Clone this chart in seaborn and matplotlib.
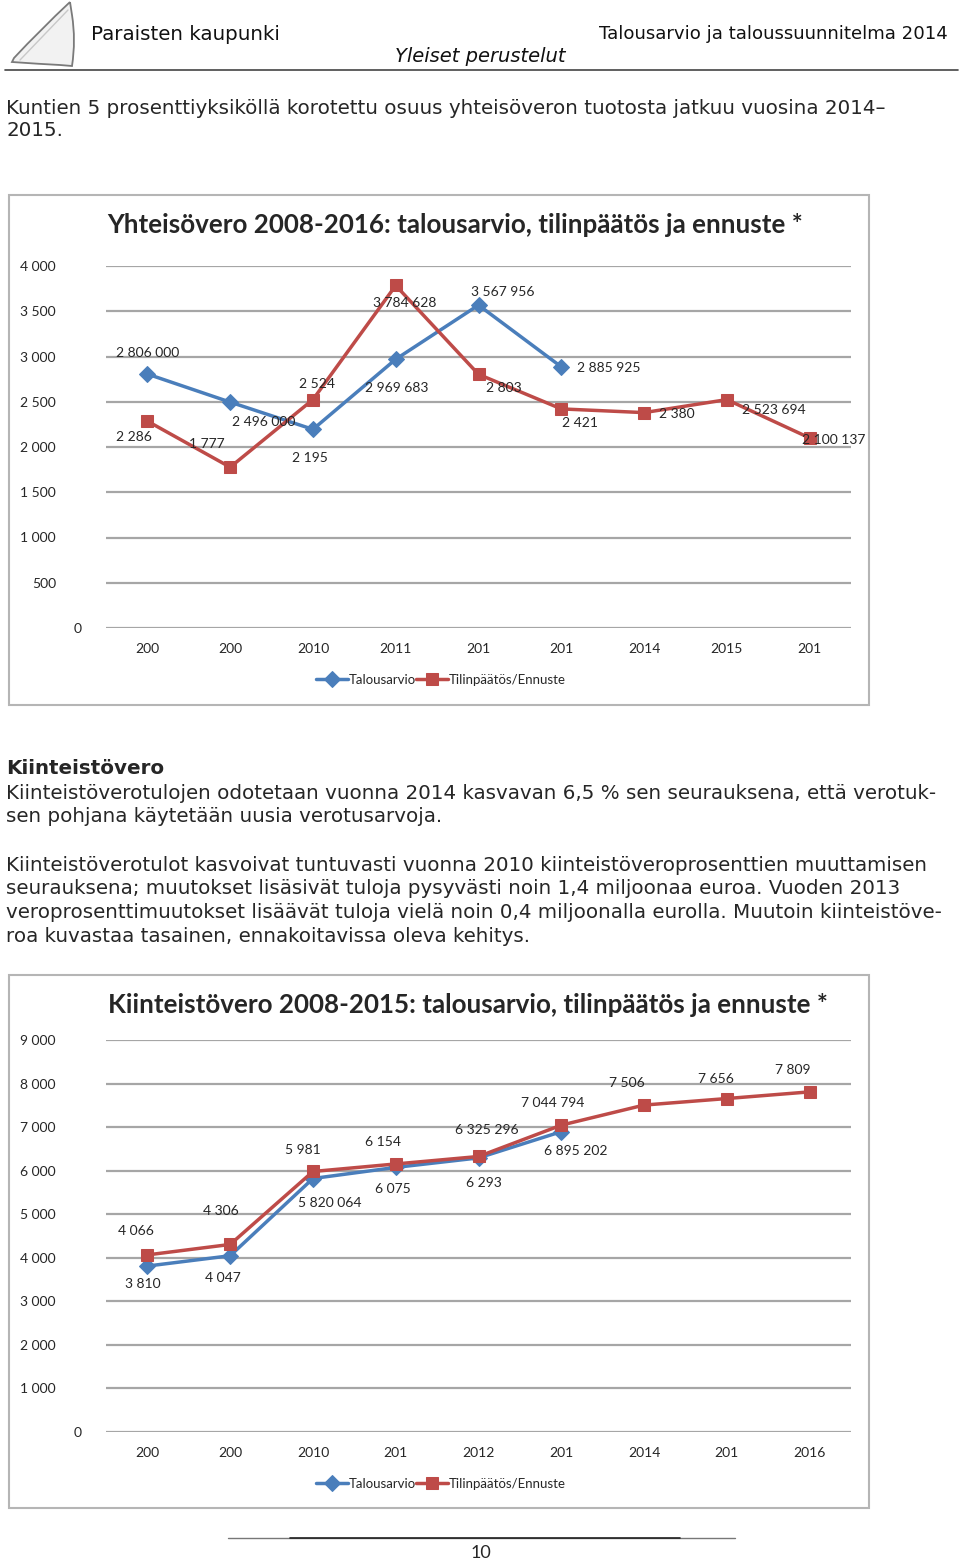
import matplotlib
matplotlib.use("Agg")
import matplotlib.pyplot as plt
import matplotlib.patches as mpatches
import matplotlib.lines as mlines
from matplotlib.path import Path
import seaborn as sns
import numpy as np

# ---------------- data ----------------
years = [2008, 2009, 2010, 2011, 2012, 2013, 2014, 2015, 2016]

c1_ticklabels = ["200", "200", "2010", "2011", "201", "201", "2014", "2015", "201"]
c1_budget = [2806, 2496, 2195, 2969.683, 3567.956, 2885.925]
c1_budget_labels = ["2 806 000", "2 496 000", "2 195", "2 969 683", "3 567 956", "2 885 925"]
c1_actual = [2286, 1777, 2524, 3784.628, 2803, 2421, 2380, 2523.694, 2100.137]
c1_actual_labels = ["2 286", "1 777", "2 524", "3 784 628", "2 803", "2 421", "2 380", "2 523 694", "2 100 137"]
c1_yticks = [0, 500, 1000, 1500, 2000, 2500, 3000, 3500, 4000]
c1_ytlabels = ["0", "500", "1 000", "1 500", "2 000", "2 500", "3 000", "3 500", "4 000"]

c2_ticklabels = ["200", "200", "2010", "201", "2012", "201", "2014", "201", "2016"]
c2_budget = [3810, 4047, 5820.064, 6075, 6293, 6895.202]
c2_budget_labels = ["3 810", "4 047", "5 820 064", "6 075", "6 293", "6 895 202"]
c2_actual = [4066, 4306, 5981, 6154, 6325.296, 7044.794, 7506, 7656, 7809]
c2_actual_labels = ["4 066", "4 306", "5 981", "6 154", "6 325 296", "7 044 794", "7 506", "7 656", "7 809"]
c2_yticks = [0, 1000, 2000, 3000, 4000, 5000, 6000, 7000, 8000, 9000]
c2_ytlabels = ["0", "1 000", "2 000", "3 000", "4 000", "5 000", "6 000", "7 000", "8 000", "9 000"]

series_names = ["Talousarvio", "Tilinpäätös/Ennuste"]

# ---------------- label offsets (pixels, +y up) ----------------
c1_budget_off = [(0, 21), (34, -20), (-3, -29), (1, -29), (24, 13), (47, -1)]
c1_actual_off = [(-13, -16), (-23, 23), (4, 16), (9, -18), (25, -14), (19, -14), (33, -1), (47, -10), (24, -2)]
c2_budget_off = [(-5, -18), (-7, -22), (17, -24), (-3, -22), (5, -25), (14, -19)]
c2_actual_off = [(-11, 24), (-9, 33), (-10, 21), (-13, 22), (8, 26), (-9, 22), (-17, 22), (-11, 20), (-17, 22)]

# ---------------- style ----------------
sns.set_style("white")
plt.rcParams["font.family"] = ["DejaVu Sans"]
CH = ["Lato", "DejaVu Sans"]
BLUE = "#4A7EBB"
RED = "#BE4B48"
GRID = "#A6A6A6"

W, H = 960, 1564
fig = plt.figure(figsize=(W / 100, H / 100), dpi=100)
renderer = fig.canvas.get_renderer()


def ftext(x, y, s, width=None, size=10, **kw):
    t = fig.text(x / W, 1 - y / H, s, fontsize=size, **kw)
    if width:
        w = t.get_window_extent(renderer=renderer).width
        t.set_fontsize(size * width / w)
    return t


def P(x, y):
    return (x / W, 1 - y / H)


# ---------------- header ----------------
sail_path = Path(
    [P(70, 2), P(40, 30), P(14, 58), P(12, 62),
     P(40, 64), P(60, 65), P(72, 66),
     P(76, 40), P(72, 15), P(70, 2)],
    [Path.MOVETO, Path.CURVE3, Path.CURVE3, Path.LINETO,
     Path.CURVE3, Path.CURVE3, Path.LINETO,
     Path.CURVE3, Path.CURVE3, Path.LINETO])
sail = mpatches.PathPatch(sail_path, transform=fig.transFigure, facecolor="#f2f2f2",
                          edgecolor="#7a7a7a", lw=1.3)
fig.patches.append(sail)
fig.add_artist(mlines.Line2D([20 / W, 68 / W], [1 - 60 / H, 1 - 10 / H], color="#c8c8c8", lw=1.0))
ftext(91, 34, "Paraisten kaupunki", width=190, ha="left", va="center", color="#111111")
ftext(948, 34, "Talousarvio ja taloussuunnitelma 2014", width=350, ha="right", va="center", color="#111111")
ftext(480, 57, "Yleiset perustelut", width=171, ha="center", va="center", style="italic", color="#111111")
fig.add_artist(mlines.Line2D([5 / W, 958 / W], [1 - 70 / H, 1 - 70 / H], color="#444444", lw=1.2))

# ---------------- body text ----------------
probe = ftext(6, 937, "roa kuvastaa tasainen, ennakoitavissa oleva kehitys.", width=527, ha="left", va="center")
BS = probe.get_fontsize()
body = [
    (108, "Kuntien 5 prosenttiyksiköllä korotettu osuus yhteisöveron tuotosta jatkuu vuosina 2014–"),
    (131, "2015."),
    (793, "Kiinteistöverotulojen odotetaan vuonna 2014 kasvavan 6,5 % sen seurauksena, että verotuk-"),
    (817, "sen pohjana käytetään uusia verotusarvoja."),
    (865, "Kiinteistöverotulot kasvoivat tuntuvasti vuonna 2010 kiinteistöveroprosenttien muuttamisen"),
    (889, "seurauksena; muutokset lisäsivät tuloja pysyvästi noin 1,4 miljoonaa euroa. Vuoden 2013"),
    (913, "veroprosenttimuutokset lisäävät tuloja vielä noin 0,4 miljoonalla eurolla. Muutoin kiinteistöve-"),
]
for y, s in body:
    ftext(6, y, s, size=BS, ha="left", va="center")
ftext(6, 769, "Kiinteistövero", size=BS, ha="left", va="center", weight="bold")


# ---------------- charts ----------------
def chart(box, axrect, title, title_xy, title_w, ylim, yticks, ytlabels, xtl,
          budget, blabels, boff, actual, alabels, aoff, legend_y):
    bx0, by0, bx1, by1 = box
    rect = mpatches.Rectangle((bx0 / W, 1 - by1 / H), (bx1 - bx0) / W, (by1 - by0) / H,
                              transform=fig.transFigure, fill=False, edgecolor="#B5B5B5", lw=1.5)
    fig.patches.append(rect)
    ax = fig.add_axes(axrect)
    x_all = np.arange(len(years))
    ax.set_xlim(-0.5, len(years) - 0.5)
    ax.set_ylim(*ylim)
    ax.set_yticks(yticks, ytlabels)
    ax.grid(axis="y", color=GRID, lw=1.6)
    ax.grid(axis="x", visible=False)
    ax.set_axisbelow(True)
    for sp in ax.spines.values():
        sp.set_visible(False)
    sns.lineplot(x=x_all[:len(budget)], y=budget, ax=ax, color=BLUE, lw=2.5, marker="D",
                 markersize=8, markeredgecolor=BLUE, markerfacecolor=BLUE, sort=False,
                 label=series_names[0])
    sns.lineplot(x=x_all[:len(actual)], y=actual, ax=ax, color=RED, lw=2.5, marker="s",
                 markersize=9, markeredgecolor=RED, markerfacecolor=RED, sort=False,
                 label=series_names[1])
    handles, labels = ax.get_legend_handles_labels()
    if ax.get_legend() is not None:
        ax.get_legend().remove()
    ax.set_xlabel("")
    ax.set_ylabel("")
    ax.set_xticks(x_all, xtl)
    ax.tick_params(axis="x", length=0, pad=11, labelsize=10)
    ax.tick_params(axis="y", length=0, pad=36, labelsize=10)
    for lab in ax.get_xticklabels() + ax.get_yticklabels():
        lab.set_family(CH)
    ax.yaxis.get_major_ticks()[0].label1.set_x(26 / (axrect[2] * W))
    for xi, v, s, (dx, dy) in zip(x_all, budget, blabels, boff):
        ax.annotate(s, (xi, v), xytext=(dx, dy), textcoords="offset pixels",
                    ha="center", va="center", fontsize=10, family=CH)
    for xi, v, s, (dx, dy) in zip(x_all, actual, alabels, aoff):
        ax.annotate(s, (xi, v), xytext=(dx, dy), textcoords="offset pixels",
                    ha="center", va="center", fontsize=10, family=CH)
    ftext(title_xy[0], title_xy[1], title, width=title_w, size=17, ha="center",
          va="center", weight="bold", family=CH)
    fig.legend(handles, labels, loc="center", bbox_to_anchor=(441 / W, 1 - legend_y / H),
               ncol=2, frameon=False, handlelength=2.4, handletextpad=0.05,
               columnspacing=0.05, prop={"family": CH, "size": 9.5})
    return ax


chart((9, 195, 869, 705), [106 / W, 1 - 628 / H, 745 / W, 362 / H],
      "Yhteisövero 2008-2016: talousarvio, tilinpäätös ja ennuste *", (455, 225), 695,
      (0, 4000), c1_yticks, c1_ytlabels, c1_ticklabels,
      c1_budget, c1_budget_labels, c1_budget_off, c1_actual, c1_actual_labels, c1_actual_off, 680)

chart((9, 975, 869, 1508), [106 / W, 1 - 1432 / H, 745 / W, 392 / H],
      "Kiinteistövero 2008-2015: talousarvio, tilinpäätös ja ennuste *", (468, 1005), 720,
      (0, 9000), c2_yticks, c2_ytlabels, c2_ticklabels,
      c2_budget, c2_budget_labels, c2_budget_off, c2_actual, c2_actual_labels, c2_actual_off, 1484)

# ---------------- footer ----------------
fig.add_artist(mlines.Line2D([228 / W, 735 / W], [1 - 1538 / H, 1 - 1538 / H], color="#777777", lw=1.0))
fig.add_artist(mlines.Line2D([290 / W, 680 / W], [1 - 1538 / H, 1 - 1538 / H], color="#222222", lw=1.2))
ftext(481, 1553, "10", size=13, ha="center", va="center", family=CH)

fig.savefig("out.png", dpi=100)
